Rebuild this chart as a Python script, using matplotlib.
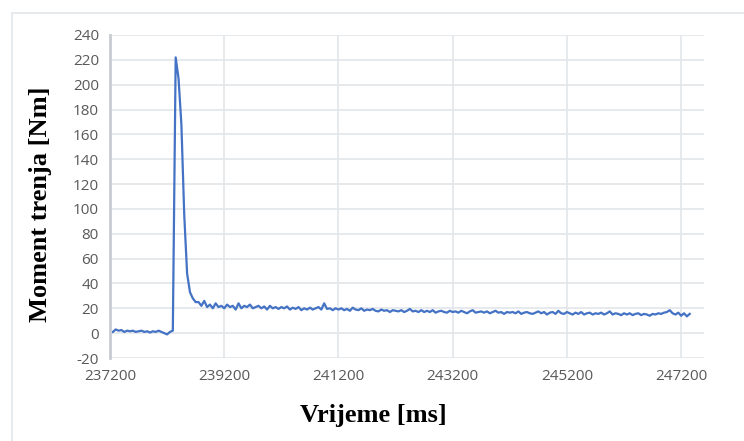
import numpy as np
import matplotlib.pyplot as plt
from matplotlib.patches import Rectangle

plt.rcParams['axes.unicode_minus'] = False

# uzorci svakih 50 ms
t_start = 237250
t_step = 50

pre = [1, 3, 2, 2.5, 1, 2, 1.5, 2, 1, 1.5, 2, 1, 1.5, 0.5, 1.5, 1, 2, 1, 0, -1, 1, 2]
spike = [222, 205, 168, 95, 48, 33, 28, 25]
tail = [
    25, 22, 26, 21, 23, 20, 24, 21, 22, 20,
    23, 21, 22, 19, 24, 20, 22, 21, 23, 20,
    21, 22, 20, 21.5, 19, 22, 20, 21, 19.5, 21,
    20, 21.5, 19, 20.5, 19.5, 21, 18.5, 20, 19, 20.5,
    19, 20, 21, 19, 24, 19.5, 20, 18.5, 20, 19,
    20, 18.5, 19.5, 18, 20.5, 19, 18.5, 20, 18, 19,
    18.5, 19.5, 18, 17.5, 19, 18, 18.5, 17, 18.5, 18,
    17.5, 18.5, 17, 18, 19.5, 17.5, 18, 17, 18.5, 17,
    18, 17, 18.5, 16.5, 17.5, 18, 17, 16.5, 18, 17,
    17.5, 16.5, 18, 17, 16, 17.5, 18.5, 16.5, 17, 17.5,
    16.5, 17.5, 16, 17, 18, 16.5, 17, 15.5, 17, 16.5,
    17, 16, 17.5, 15.5, 16.5, 17, 16, 15.5, 16.5, 17.5,
    16, 17, 15, 16.5, 17, 15.5, 18, 16, 15.5, 17,
    16, 15, 16.5, 15.5, 17, 15, 16, 16.5, 15, 16,
    15.5, 16.5, 15, 16, 17.5, 15, 16, 15.5, 14.5, 16,
    15, 16, 14.5, 15.5, 16, 14.5, 15.5, 15, 14, 15.5,
    15, 16, 15.5, 16.5, 17, 18.5, 16, 15, 16.5, 14,
    16, 13.5, 15.5,
]

moment = np.array(pre + spike + tail)
vrijeme = t_start + t_step * np.arange(len(moment))

x_ticks = [237200, 239200, 241200, 243200, 245200, 247200]
y_ticks = list(range(-20, 241, 20))

fig = plt.figure(figsize=(7.44, 4.41), dpi=100)
ax = fig.add_axes([110 / 744, 1 - 358 / 441, (704 - 110) / 744, (358 - 35) / 441])

# okvir grafikona
fig.add_artist(Rectangle((12 / 744, -0.1), 1.2, 1 - 13 / 441 + 0.1,
                         transform=fig.transFigure, fill=False,
                         edgecolor='#e3e6ea', linewidth=1.2))

ax.plot(vrijeme, moment, color='#4472C4', linewidth=1.6)

ax.set_xlim(237200, 247600)
ax.set_ylim(-20, 240)
ax.set_xticks(x_ticks)
ax.set_yticks(y_ticks)
ax.grid(True, color='#e3e6ea', linewidth=1.2)
ax.set_axisbelow(True)

for s in ['top', 'right', 'bottom']:
    ax.spines[s].set_visible(False)
ax.spines['left'].set_color('#c8ccd2')
ax.spines['left'].set_linewidth(2)
ax.tick_params(length=0, labelsize=11, labelcolor='#595959', pad=8)
for lbl in ax.get_xticklabels() + ax.get_yticklabels():
    lbl.set_fontfamily('Open Sans')

ax.set_xlabel('Vrijeme [ms]', fontfamily='Liberation Serif', fontweight='bold',
              fontsize=19, color='black')
ax.set_ylabel('Moment trenja [Nm]', fontfamily='Liberation Serif', fontweight='bold',
              fontsize=19, color='black')
ax.xaxis.set_label_coords(0.443, -0.142)
ax.yaxis.set_label_coords(-0.098, 0.477)

fig.savefig('out.png', dpi=100)
